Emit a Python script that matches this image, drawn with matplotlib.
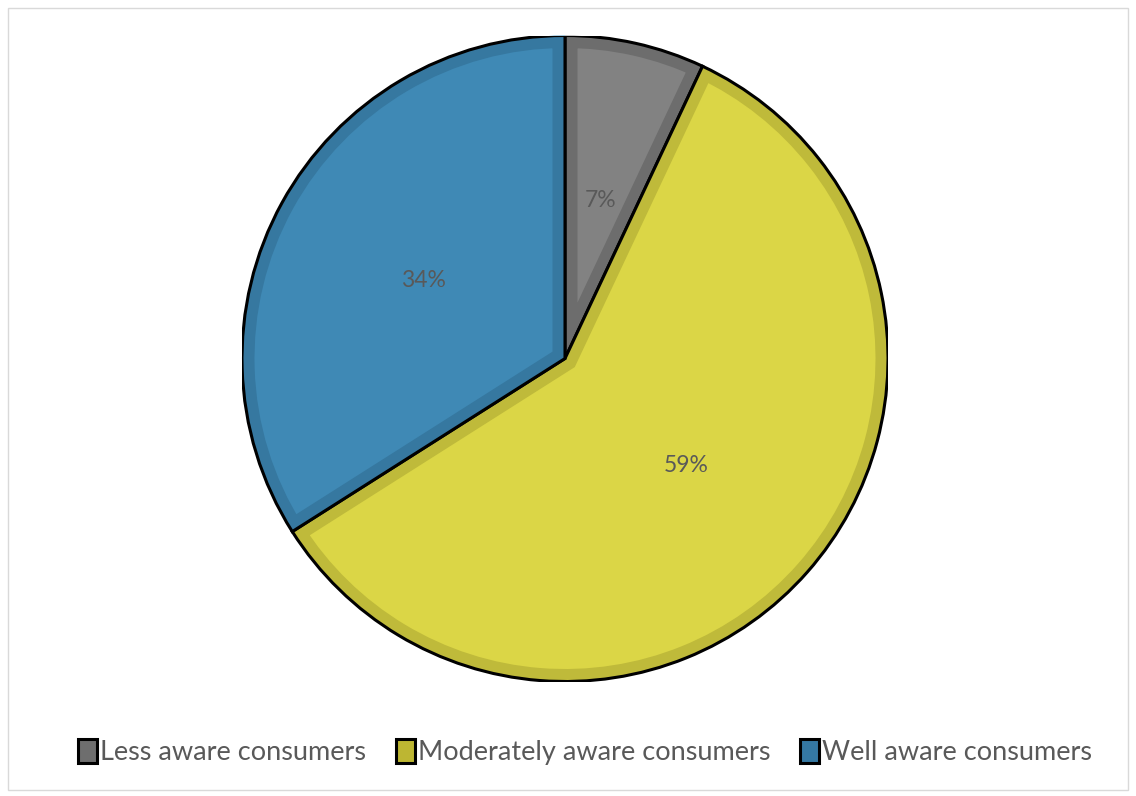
import numpy as np
import matplotlib.pyplot as plt
from matplotlib.patches import Wedge, Patch, Rectangle

labels = ["Less aware consumers", "Moderately aware consumers", "Well aware consumers"]
values = [7, 59, 34]
pct_text = ["7%", "59%", "34%"]

fill_colors = ["#828282", "#dbd646", "#3f89b5"]
band_colors = ["#6d6d6d", "#bfba3a", "#3678a0"]
legend_colors = ["#6e6e6e", "#bdb632", "#3578a2"]

plt.rcParams['font.family'] = ['Lato', 'DejaVu Sans']

fig = plt.figure(figsize=(11.36, 7.96), dpi=100)
fig.patches.append(Rectangle((0.007, 0.008), 0.986, 0.982, transform=fig.transFigure,
                             fill=False, edgecolor="#d9d9d9", lw=1))

# pie centre ~ (565, 358) px, radius ~ 323 px
ax = fig.add_axes([(565 - 323) / 1136, (437.5 - 323) / 796, 646 / 1136, 646 / 796])

wedges, texts = ax.pie(values, colors=fill_colors, startangle=90, counterclock=False,
                       radius=1, wedgeprops=dict(lw=0))
ax.set_xlim(-1, 1)
ax.set_ylim(-1, 1)
ax.set_aspect("equal")
ax.axis("off")

# darker inner band (bevel look) + black outline
for w, bc in zip(wedges, band_colors):
    band = Wedge(w.center, w.r, w.theta1, w.theta2, facecolor="none",
                 edgecolor=bc, lw=18)
    ax.add_patch(band)
    band.set_clip_path(w)
    ax.add_patch(Wedge(w.center, w.r, w.theta1, w.theta2, facecolor="none",
                       edgecolor="black", lw=2.2))

# percentage labels
for w, t in zip(wedges, pct_text):
    ang = np.deg2rad((w.theta1 + w.theta2) / 2)
    ax.text(0.5 * np.cos(ang), 0.5 * np.sin(ang), t, ha="center", va="center",
            fontsize=16.5, color="#595959")

handles = [Patch(facecolor=c, edgecolor="black", lw=2.2) for c in legend_colors]
fig.legend(handles, labels, loc="center", bbox_to_anchor=(0.515, 0.055), ncol=3,
           frameon=False, fontsize=19.5, labelcolor="#595959", handlelength=0.7,
           handleheight=0.95, handletextpad=0.12, columnspacing=1.1)

fig.savefig("out.png", dpi=100)
